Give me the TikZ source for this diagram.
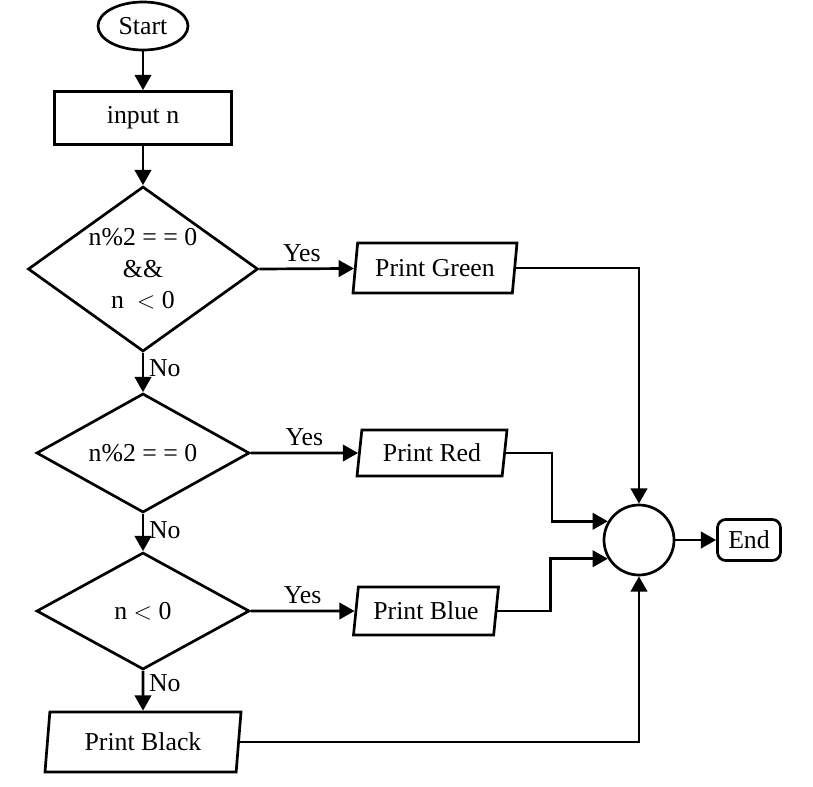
\documentclass[tikz,border=0pt]{standalone}
\usepackage{fontspec}
\setmainfont{Liberation Serif}
\usetikzlibrary{shapes.geometric,arrows.meta}
\begin{document}
\begin{tikzpicture}[x=0.03cm,y=-0.03cm,
  every node/.style={font=\fontsize{22}{27}\selectfont, inner sep=0pt},
  box/.style={draw, line width=2.3pt},
  para/.style={box, trapezium, trapezium left angle=75, trapezium right angle=105, trapezium stretches body=true},
  dec/.style={box, diamond, align=center},
  arr/.style={line width=2.3pt, -{Triangle[length=13pt,width=14pt]}},
  lbl/.style={font=\fontsize{22}{26}\selectfont}]
\useasboundingbox (0,0) rectangle (813,787);
\fill[white] (0,0) rectangle (813,787);

\node[box, ellipse, minimum width=2.7cm, minimum height=1.44cm] (start) at (143,26) {Start};
\node[box, rectangle, minimum width=5.31cm, minimum height=1.59cm] (input) at (143,118) {input n};
\node[dec, aspect=1.4, minimum width=6.9cm, minimum height=4.95cm] (d1) at (143,269) {n\%2 = = 0\\\&\&\\n \ $<$ 0};
\node[dec, aspect=1.8, minimum width=6.39cm, minimum height=3.57cm] (d2) at (143,453) {n\%2 = = 0};
\node[dec, aspect=1.8, minimum width=6.39cm, minimum height=3.51cm] (d3) at (143,611) {n $<$ 0};
\node[para, minimum width=4.92cm, minimum height=1.5cm] (green) at (435,268) {Print Green};
\node[para, minimum width=4.5cm, minimum height=1.38cm] (red) at (432,453) {Print Red};
\node[para, minimum width=4.35cm, minimum height=1.44cm] (blue) at (426,611) {Print Blue};
\node[para, minimum width=5.88cm, minimum height=1.8cm] (black) at (143,742) {Print Black};
\node[box, circle, minimum size=2.1cm] (c) at (639,540) {};
\node[box, rectangle, rounded corners=7pt, minimum width=1.89cm, minimum height=1.23cm] (end) at (749,540) {End};

\draw[arr] (start) -- (input);
\draw[arr] (input) -- (d1);
\draw[arr] (d1.south) -- node[lbl, right=4pt, pos=0.4] (no1) {No} (d2.north);
\draw[arr] (d2.south) -- node[lbl, right=4pt, pos=0.45] (no2) {No} (d3.north);
\draw[arr] (d3.south) -- node[lbl, right=4pt, pos=0.3] (no3) {No} (black.north);

\draw[arr] (d1.east) -- node[lbl, above=5pt, pos=0.45] (y1) {Yes} (green);
\draw[arr] (d2.east) -- node[lbl, above=5pt, pos=0.5] (y2) {Yes} (red);
\draw[arr] (d3.east) -- node[lbl, above=5pt, pos=0.5] (y3) {Yes} (blue);

\draw[arr] (green.east) -| (c.north);
\draw[arr] (red.east) -- ++(46,0) |- (c.149);
\draw[arr] (blue.east) -- ++(53,0) |- (c.211);
\draw[arr] (black.east) -| (c.south);
\draw[arr] (c.east) -- (end.west);
\end{tikzpicture}
\end{document}
